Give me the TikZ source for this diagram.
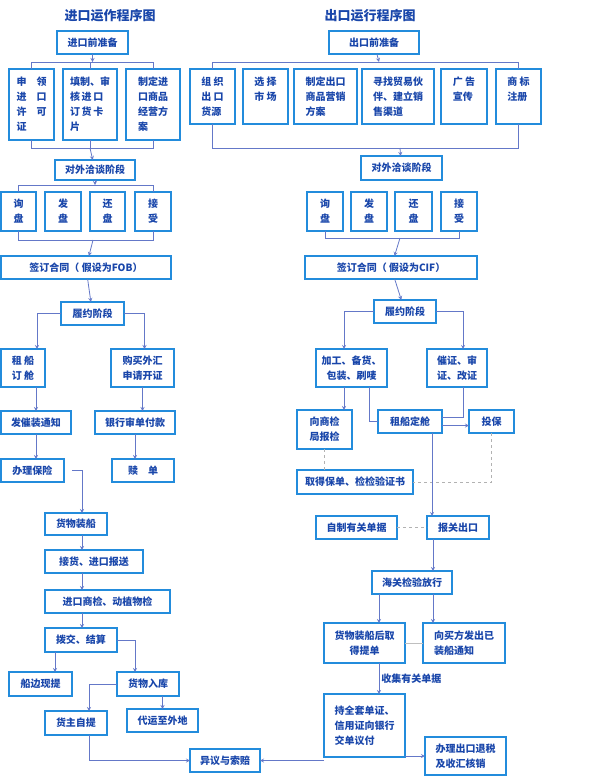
\documentclass[tikz,border=0pt]{standalone}
\usepackage{fontspec}
\newfontfamily\cjk{Noto Sans CJK SC}
\usepackage{tikz}
\usetikzlibrary{arrows,positioning}
\definecolor{boxblue}{RGB}{35,140,220}
\definecolor{txtblue}{RGB}{25,70,170}
\definecolor{lineblue}{RGB}{100,120,200}

\begin{document}
\begin{tikzpicture}[
    x=1pt, y=-1pt,
    box/.style={rectangle, draw=boxblue, line width=1.3pt, inner sep=2pt, outer sep=0pt,
        text=txtblue, font=\cjk\bfseries\fontsize{10}{15}\selectfont, align=left},
    title/.style={text=txtblue, font=\cjk\bfseries\fontsize{13}{15}\selectfont},
    line/.style={draw=lineblue, line width=0.8pt},
    arrow/.style={line, ->, >=stealth},
    dline/.style={draw=gray!60, line width=0.6pt, dashed}
]
    \useasboundingbox (0,0) rectangle (600,777);
    % import side
    \node[title] (ititle) at (110,16) {进口运作程序图};
    \node[box, minimum width=71, minimum height=23] (ipre) at (92.5,42.5) {进口前准备};
    \node[box, minimum width=45, minimum height=71] (ilic) at (31.5,104.5) {申\quad 领\\进\quad 口\\许\quad 可\\证};
    \node[box, minimum width=54, minimum height=71] (icard) at (90,104.5) {填制、审\\核\,进\,口\\订\,货\,卡\\片};
    \node[box, minimum width=54, minimum height=71] (iplan) at (153,104.5) {制定进\\口商品\\经营方\\案};
    \node[box, minimum width=80, minimum height=20] (ineg) at (95,170) {对外洽谈阶段};
    \node[box, minimum width=35, minimum height=39, align=right] (ia) at (18.5,211.5) {\hfill 询\\盘};
    \node[box, minimum width=36, minimum height=39, align=right] (ib) at (63,211.5) {发\\盘};
    \node[box, minimum width=35, minimum height=39, align=right] (ic) at (107.5,211.5) {还\\盘};
    \node[box, minimum width=36, minimum height=39, align=right] (id) at (153,211.5) {接\\受};
    \node[box, minimum width=170, minimum height=23] (icon) at (86,267.5) {签订合同（ 假设为FOB）};
    \node[box, minimum width=63, minimum height=23] (iperf) at (92.5,313.5) {履约阶段};
    \node[box, minimum width=44, minimum height=38] (iship) at (23,368) {租\ 船\\订\ 舱};
    \node[box, minimum width=63, minimum height=38] (iforex) at (142.5,368) {购买外汇\\申请开证};
    \node[box, minimum width=70, minimum height=23] (inotice) at (36,422.5) {发催装通知};
    \node[box, minimum width=80, minimum height=23] (ibank) at (135,422.5) {银行审单付款};
    \node[box, minimum width=63, minimum height=23] (iins) at (32.5,470.5) {办理保险};
    \node[box, minimum width=62, minimum height=23] (iredeem) at (143,470.5) {赎\quad 单};
    \node[box, minimum width=62, minimum height=22] (iload) at (76,524) {货物装船};
    \node[box, minimum width=98, minimum height=23] (irecv) at (94,561.5) {接货、进口报送};
    \node[box, minimum width=125, minimum height=23] (iinsp) at (107.5,601.5) {进口商检、动植物检};
    \node[box, minimum width=72, minimum height=24] (isettle) at (81,640) {拨交、结算};
    \node[box, minimum width=63, minimum height=24] (iside) at (40.5,684) {船边现提};
    \node[box, minimum width=62, minimum height=24] (iware) at (148,684) {货物入库};
    \node[box, minimum width=62, minimum height=24] (iself) at (76,723) {货主自提};
    \node[box, minimum width=71, minimum height=23] (iforward) at (162.5,720.5) {代运至外地};
    \node[box, minimum width=70, minimum height=23] (claim) at (225,760.5) {异议与索赔};

    \coordinate (itop) at (92.5,62);
    \coordinate (ibot) at (90,148);
    \coordinate (i4top) at (95,185);
    \coordinate (i4bot) at (93,240);
    \draw[arrow] (ipre) -- (itop);
    \draw[line] (ilic.north) -- ++(0,-7) -| (iplan.north);
    \draw[line] (icard.north) -- (icard.north |- itop);
    \draw[line] (ilic.south) -- ++(0,8) -| (iplan.south);
    \draw[line] (icard.south) -- (icard.south |- ibot);
    \draw[arrow] (ibot) -- (ineg);
    \draw[arrow] (ineg) -- (i4top);
    \draw[line] (ia.north) -- ++(0,-7) -| (id.north);
    \draw[line] (ia.south) -- ++(0,9) -| (id.south);
    \draw[arrow] (i4bot) -- (icon);
    \draw[arrow] (icon) -- (iperf);
    \draw[arrow] (iperf.west) -| ([xshift=14pt]iship.north);
    \draw[arrow] (iperf.east) -| ([xshift=2pt]iforex.north);
    \draw[arrow] (inotice.north |- iship.south) -- (inotice);
    \draw[arrow] (iforex.south) -- (iforex.south |- ibank.north);
    \draw[arrow] (inotice) -- (inotice |- iins.north);
    \draw[arrow] (ibank.south) -- (ibank.south |- iredeem.north);
    \draw[arrow] ([xshift=8pt]iins.east) -| ([xshift=6pt]iload.north);
    \draw[arrow] ([xshift=6pt]iload.south) -- ([xshift=6pt]iload.south |- irecv.north);
    \draw[arrow] ([xshift=6pt]iload.south |- irecv.south) -- ([xshift=6pt]iload.south |- iinsp.north);
    \draw[arrow] ([xshift=6pt]iload.south |- iinsp.south) -- ([xshift=6pt]iload.south |- isettle.north);
    \draw[arrow] ([xshift=-26pt]isettle.south) -- ([xshift=-26pt]isettle.south |- iside.north);
    \draw[arrow] (isettle.east) -| ([xshift=-13pt]iware.north);
    \draw[arrow] (iware.west) -| ([xshift=13pt]iself.north);
    \draw[arrow] (iforward.north |- iware.south) -- (iforward);
    \draw[arrow] ([xshift=13pt]iself.south) |- (claim.west);

    % export side
    \node[title] (etitle) at (370,16) {出口运行程序图};
    \node[box, minimum width=90, minimum height=23] (epre) at (374,42.5) {出口前准备};
    \node[box, minimum width=45, minimum height=55, anchor=center] (esrc) at (212.5,96.5) {组\ 织\\出\ 口\\货源};
    \node[box, minimum width=45, minimum height=55] (emkt) at (265.5,96.5) {选\ 择\\市\ 场\\\mbox{}};
    \node[box, minimum width=63, minimum height=55] (eplan) at (325.5,96.5) {制定出口\\商品营销\\方案};
    \node[box, minimum width=72, minimum height=55] (epart) at (398,96.5) {寻找贸易伙\\伴、建立销\\售渠道};
    \node[box, minimum width=46, minimum height=55] (eads) at (464,96.5) {广\ 告\\宣传\\\mbox{}};
    \node[box, minimum width=45, minimum height=55] (etm) at (518.5,96.5) {商\ 标\\注册\\\mbox{}};
    \node[box, minimum width=81, minimum height=24] (eneg) at (401.5,168) {对外洽谈阶段};
    \node[box, minimum width=36, minimum height=39, align=right] (ea) at (325,211.5) {询\\盘};
    \node[box, minimum width=36, minimum height=39, align=right] (eb) at (369,211.5) {发\\盘};
    \node[box, minimum width=37, minimum height=39, align=right] (ec) at (413.5,211.5) {还\\盘};
    \node[box, minimum width=36, minimum height=39, align=right] (ed) at (459,211.5) {接\\受};
    \node[box, minimum width=172, minimum height=23] (econ) at (391,267.5) {签订合同（ 假设为CIF）};
    \node[box, minimum width=62, minimum height=23] (eperf) at (405,311.5) {履约阶段};
    \node[box, minimum width=71, minimum height=38, align=center] (eprep) at (351.5,368) {加工、备货、\\包装、刷唛};
    \node[box, minimum width=60, minimum height=38, align=center] (elc) at (457,368) {催证、审\\证、改证};
    \node[box, minimum width=55, minimum height=39, align=center] (einsp) at (324.5,429.5) {向商检\\局报检};
    \node[box, minimum width=64, minimum height=23] (eship) at (410,421.5) {租船定舱};
    \node[box, minimum width=45, minimum height=23] (eins) at (491.5,421.5) {投保};
    \node[box, minimum width=116, minimum height=24] (ecert) at (355,482) {取得保单、检检验证书};
    \node[box, minimum width=81, minimum height=23] (edocs) at (356.5,527.5) {自制有关单据};
    \node[box, minimum width=62, minimum height=23] (ecust) at (458,527.5) {报关出口};
    \node[box, minimum width=80, minimum height=23] (erel) at (412,582.5) {海关检验放行};
    \node[box, minimum width=81, minimum height=40, align=center] (ebl) at (364.5,643) {货物装船后取\\得提单};
    \node[box, minimum width=82, minimum height=40] (enote) at (464,643) {向买方发出已\\装船通知};
    \node[box, minimum width=81, minimum height=63] (epres) at (364.5,725.5) {持全套单证、\\信用证向银行\\交单议付};
    \node[box, minimum width=81, minimum height=38] (etax) at (465.5,756) {办理出口退税\\及收汇核销};

    \coordinate (etop) at (379,62);
    \coordinate (ebot) at (400,148);
    \coordinate (e4bot) at (400,238);
    \draw[arrow] (epre) -- (etop);
    \draw[line] (esrc.north) -- ++(0,-7) -| (etm.north);
    \draw[line] (esrc.south) -- ++(0,24) -| (etm.south);
    \draw[arrow] (ebot) -- (eneg);
    \draw[line] (ea.south) -- ++(0,7) -| (ed.south);
    \draw[arrow] (e4bot) -- (econ);
    \draw[arrow] (econ) -- (eperf);
    \draw[arrow] (eperf.west) -| ([xshift=-7.5pt]eprep.north);
    \draw[arrow] (eperf.east) -| ([xshift=6pt]elc.north);
    \draw[arrow] ([xshift=-7.5pt]eprep.south) -- ([xshift=-7.5pt]eprep.south |- einsp.north);
    \draw[line] ([xshift=17.5pt]eprep.south) |- (eship.west);
    \draw[line] ([xshift=6pt]elc.south) |- ([yshift=4pt]eship.east);
    \draw[arrow] ([yshift=-4pt]eship.east) -- ([yshift=-4pt]eins.west);
    \draw[dline] (eins.south) |- (ecert.east);
    \draw[dline] (einsp.south) -- (einsp.south |- ecert.north);
    \draw[arrow] ([xshift=22pt]eship.south) -- ([xshift=22pt]eship.south |- ecust.north);
    \draw[dline] (edocs) -- (ecust);
    \draw[arrow] ([xshift=21pt]erel.north |- ecust.south) -- ([xshift=21pt]erel.north);
    \draw[arrow] ([xshift=-33pt]erel.south) -- ([xshift=-33pt]erel.south |- ebl.north);
    \draw[arrow] ([xshift=21pt]erel.south) -- ([xshift=21pt]erel.south |- enote.north);
    \draw[line, draw=gray!50] (ebl) -- (enote);
    \draw[arrow] ([xshift=14.5pt]ebl.south) -- ([xshift=14.5pt]ebl.south |- epres.north)
        node[midway, right, text=txtblue, font=\cjk\bfseries\fontsize{10}{12}\selectfont, inner sep=2pt] (collect) {收集有关单据};
    \draw[arrow] (epres.east |- etax.west) -- (etax.west);
    \draw[arrow] (epres.west |- claim.east) -- (claim.east);
\end{tikzpicture}
\end{document}
